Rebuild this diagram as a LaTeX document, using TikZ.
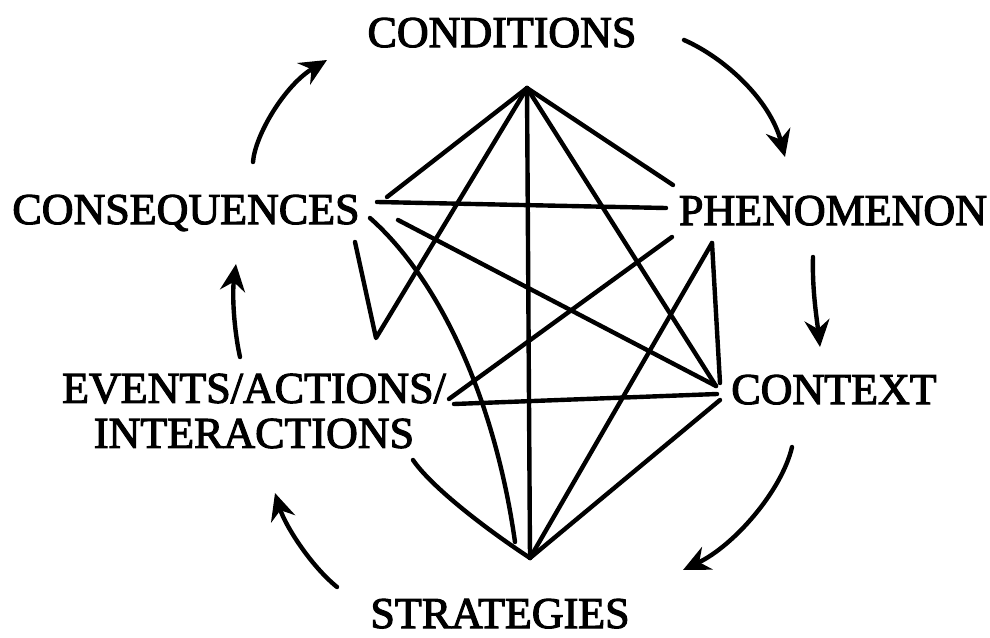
\documentclass[tikz,border=0pt]{standalone}
\usepackage{fontspec}
\newfontfamily\labfont{Liberation Serif}[FakeBold=2.5]
\usetikzlibrary{arrows.meta}
\begin{document}
\begin{tikzpicture}[x=1pt,y=-1pt,
  lab/.style={font=\labfont\fontsize{44}{45}\selectfont, inner sep=0pt, anchor=base},
  link/.style={line width=4.4pt, line cap=round, line join=round},
  cyc/.style={line width=4.4pt, line cap=round, -{Stealth[length=27pt,width=25pt,inset=9pt]}}]
\useasboundingbox[fill=white] (0,0) rectangle (990,637);

% labels
\node[lab] (cond) at (502,47) {CONDITIONS};
\node[lab] (cons) at (186,224) {CONSEQUENCES};
\node[lab] (phen) at (833,225) {PHENOMENON};
\node[lab] (ctx)  at (834,404) {CONTEXT};
\node[lab, anchor=center, align=center] (ev) at (254,411) {EVENTS/ACTIONS/\\INTERACTIONS};
\node[lab] (strat) at (500,628) {STRATEGIES};

% junction points
\coordinate (T) at (527,88);
\coordinate (B) at (530,558);
\coordinate (consA) at (387,197);
\coordinate (consH) at (377,202);
\coordinate (consV) at (355,242);
\coordinate (vBot) at (376,338);
\coordinate (consC) at (370,218);
\coordinate (cEnd) at (515,542);
\coordinate (consX) at (398,220);
\coordinate (phenT) at (673,185);
\coordinate (phenH) at (666,208);
\coordinate (phenD) at (672,237);
\coordinate (phenV) at (712,243);
\coordinate (ctxP) at (716,386);
\coordinate (ctxV) at (720,383);
\coordinate (ctxE) at (717,394);
\coordinate (ctxB) at (720,400);
\coordinate (evP) at (449,399);
\coordinate (evH) at (454,404);
\coordinate (evB) at (413,460);

% network lines
\draw[link] (T) -- (consA);
\draw[link] (T) -- (phenT);
\draw[link] (T) -- (B);
\draw[link] (T) -- (ctxP);
\draw[link] (consV) -- (vBot) -- (T);
\draw[link] (consH) -- (phenH);
\draw[link] (consC) .. controls (440,280) and (495,400) .. (cEnd);
\draw[link] (consX) -- (ctxP);
\draw[link] (phenD) -- (evP);
\draw[link] (phenV) -- (ctxV);
\draw[link] (phenV) -- (B);
\draw[link] (evH) -- (ctxE);
\draw[link] (ctxB) -- (B);
\draw[link] (evB) .. controls (430,485) and (480,525) .. (B);

% cycle arrows
\coordinate (a1s) at (253,162); \coordinate (a1e) at (327,60);
\coordinate (a2s) at (684,40);  \coordinate (a2e) at (785,157);
\coordinate (a3s) at (813,257); \coordinate (a3e) at (820,347);
\coordinate (a4s) at (792,447); \coordinate (a4e) at (683,570);
\coordinate (a5s) at (337,587); \coordinate (a5e) at (275,493);
\coordinate (a6s) at (240,357); \coordinate (a6e) at (236,264);
\draw[cyc] (a1s) .. controls (255,135) and (285,85) .. (a1e);
\draw[cyc] (a2s) .. controls (725,58) and (770,100) .. (a2e);
\draw[cyc] (a3s) .. controls (812,290) and (817,320) .. (a3e);
\draw[cyc] (a4s) .. controls (782,490) and (735,545) .. (a4e);
\draw[cyc] (a5s) .. controls (310,565) and (285,525) .. (a5e);
\draw[cyc] (a6s) .. controls (234,330) and (232,295) .. (a6e);
\end{tikzpicture}
\end{document}
